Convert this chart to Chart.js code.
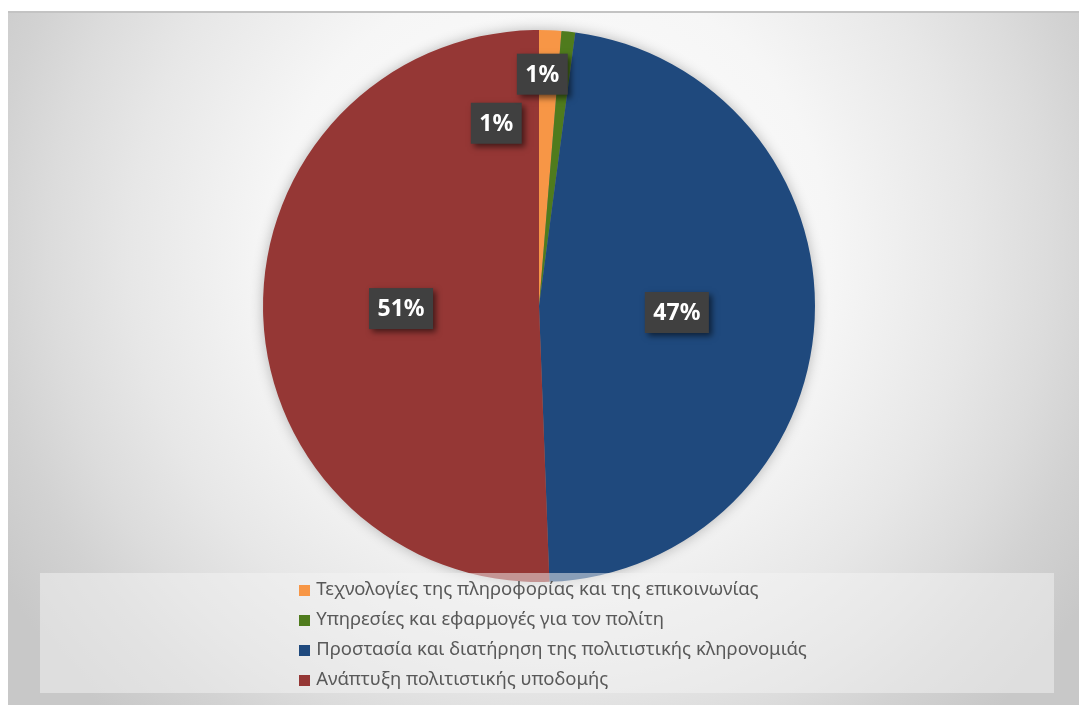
<!DOCTYPE html>
<html lang="el">
  <head>
    <meta charset="UTF-8" />
    <title>Κατανομή ανά άξονα</title>
    <style>
      body {
        margin: 0;
        padding: 0;
        background-color: #fff;
        font-family: "Noto Sans", "DejaVu Sans", sans-serif;
      }

      .panel {
        position: absolute;
        left: 8px;
        top: 11px;
        width: 1071px;
        height: 694px;
        border-top: 2px solid #c3c3c3;
        box-sizing: border-box;
        background: radial-gradient(
          circle at 542px 238px,
          #ffffff 0px,
          #f6f6f6 280px,
          #e7e7e7 420px,
          #dcdcdc 500px,
          #d2d2d2 560px,
          #c8c8c8 640px
        );
      }

      .legend {
        position: absolute;
        left: 32px;
        top: 560px;
        width: 1014px;
        height: 120px;
        background-color: rgba(244, 244, 244, 0.5);
        text-align: center;
      }

      .legend ul {
        display: inline-block;
        list-style: none;
        margin: 0 0 0 12px;
        padding: 0;
        text-align: left;
        font-size: 18.5px;
        line-height: 30px;
        color: #595959;
      }

      .legend li span {
        display: inline-block;
        width: 11px;
        height: 11px;
        margin-right: 6px;
        vertical-align: -1px;
      }
    </style>
  </head>
  <body>
    <div class="panel">
      <canvas id="pieChart" width="1071" height="692"></canvas>
      <div class="legend"><ul id="legendList"></ul></div>
    </div>

    <script src="https://cdn.jsdelivr.net/npm/chart.js"></script>
    <script>
      const categories = [
        "Τεχνολογίες της πληροφορίας και της επικοινωνίας",
        "Υπηρεσίες και εφαρμογές για τον πολίτη",
        "Προστασία και διατήρηση της πολιτιστικής κληρονομιάς",
        "Ανάπτυξη πολιτιστικής υποδομής",
      ];
      const shares = [1.3, 0.8, 47.3, 50.6];
      const sliceColors = ["#F79646", "#4F7B1D", "#1F497D", "#953735"];

      // small slices had their labels dragged away from the default spot
      const labelNudge = [
        { r: 0.68, a: -15.5 },
        { r: 0.84, a: -5.3 },
        null,
        null,
      ];

      document.addEventListener("DOMContentLoaded", function () {
        const legendList = document.getElementById("legendList");
        categories.forEach((name, i) => {
          const li = document.createElement("li");
          const box = document.createElement("span");
          box.style.backgroundColor = sliceColors[i];
          li.appendChild(box);
          li.appendChild(document.createTextNode(name));
          legendList.appendChild(li);
        });

        const total = shares.reduce((a, b) => a + b, 0);

        // soft halo round the whole pie, drawn once under the slices
        const pieShadow = {
          id: "pieShadow",
          beforeDatasetsDraw(chart) {
            const arc = chart.getDatasetMeta(0).data[0];
            if (!arc) return;
            const p = arc.getProps(["x", "y", "outerRadius"], true);
            const ctx = chart.ctx;
            ctx.save();
            ctx.shadowColor = "rgba(0, 0, 0, 0.3)";
            ctx.shadowBlur = 14;
            ctx.fillStyle = "#888";
            ctx.beginPath();
            ctx.arc(p.x, p.y, p.outerRadius - 1, 0, Math.PI * 2);
            ctx.fill();
            ctx.restore();
          },
        };

        const boxLabels = {
          id: "boxLabels",
          afterDatasetsDraw(chart) {
            const ctx = chart.ctx;
            const arcs = chart.getDatasetMeta(0).data;
            ctx.save();
            ctx.font = "bold 23px 'Noto Sans', sans-serif";
            ctx.textAlign = "center";
            ctx.textBaseline = "middle";
            arcs.forEach((arc, i) => {
              const p = arc.getProps(
                ["x", "y", "startAngle", "endAngle", "outerRadius"],
                true
              );
              let mid = (p.startAngle + p.endAngle) / 2;
              let r = p.outerRadius * 0.5;
              const nudge = labelNudge[i];
              if (nudge) {
                mid += (nudge.a * Math.PI) / 180;
                r = p.outerRadius * nudge.r;
              }
              const x = p.x + Math.cos(mid) * r;
              const y = p.y + Math.sin(mid) * r;
              const text = Math.round((shares[i] / total) * 100) + "%";
              const w = ctx.measureText(text).width + 17;
              const h = 41;

              ctx.shadowColor = "rgba(0, 0, 0, 0.55)";
              ctx.shadowBlur = 6;
              ctx.shadowOffsetX = 3;
              ctx.shadowOffsetY = 3;
              ctx.fillStyle = "#404040";
              ctx.fillRect(x - w / 2, y - h / 2, w, h);

              ctx.shadowColor = "transparent";
              ctx.fillStyle = "#ffffff";
              ctx.fillText(text, x, y + 1);
            });
            ctx.restore();
          },
        };

        const ctx = document.getElementById("pieChart").getContext("2d");
        new Chart(ctx, {
          type: "pie",
          data: {
            labels: categories,
            datasets: [
              {
                data: shares,
                backgroundColor: sliceColors,
                borderWidth: 0,
              },
            ],
          },
          options: {
            responsive: false,
            animation: false,
            layout: {
              padding: { top: 17, bottom: 123, left: 0, right: 9 },
            },
            plugins: {
              legend: { display: false },
              tooltip: { enabled: false },
            },
          },
          plugins: [pieShadow, boxLabels],
        });
      });
    </script>
  </body>
</html>
